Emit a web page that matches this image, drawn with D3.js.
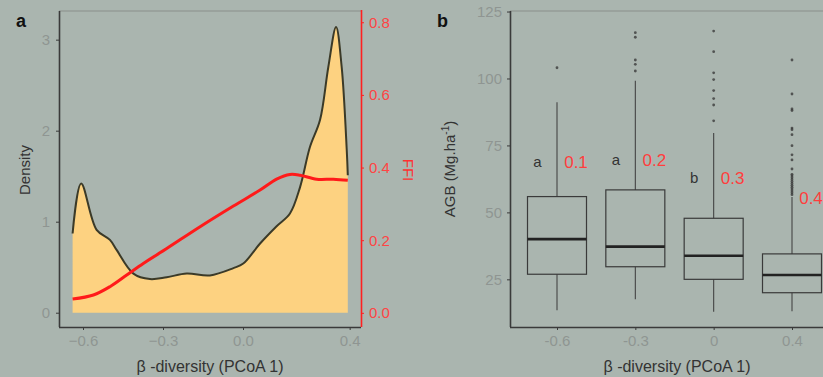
<!DOCTYPE html>
<html><head><meta charset="utf-8">
<script src="https://cdn.jsdelivr.net/npm/d3@7"></script>
<style>
html,body{margin:0;padding:0;background:#aab5af;}
svg{display:block;font-family:"Liberation Sans",Arial,sans-serif;}
</style></head><body>
<svg id="c" width="823" height="377"></svg>
<script>
// ---------- Panel a data ----------
const densityX = [-0.639,-0.607,-0.549,-0.499,-0.474,-0.411,-0.349,-0.286,-0.211,-0.124,-0.036,0.001,0.064,0.126,0.176,0.214,0.251,0.289,0.32,0.349,0.37,0.389,0.393];
const densityY = [0.87,1.42,0.91,0.80,0.69,0.43,0.37,0.39,0.43,0.41,0.49,0.54,0.76,0.95,1.09,1.38,1.82,2.12,2.70,3.14,2.70,1.79,1.51];
const ffiX = [-0.639,-0.561,-0.499,-0.436,-0.374,-0.286,-0.161,-0.036,0.064,0.126,0.176,0.214,0.276,0.339,0.393];
const ffiY = [0.038,0.049,0.072,0.104,0.136,0.177,0.237,0.294,0.338,0.368,0.381,0.379,0.368,0.368,0.365];
const densityTicks = [0,1,2,3];
const ffiTicks = [0,0.2,0.4,0.6,0.8];
const betaTicks = [-0.6,-0.3,0.0,0.4];

// ---------- Panel b data ----------
const groups = ["-0.6","-0.3","0","0.4"];
const whiskerLow = [13.5,17.6,12.9,13.1];
const q1 = [26.9,29.7,25.0,20.0];
const medians = [40.0,37.2,33.8,26.6];
const q3 = [55.9,58.4,47.8,34.5];
const whiskerHigh = [91.1,99.2,79.6,55.7];
const outliers = [
  [104],
  [102.8,105.3,106.9,115.4,117.1],
  [84.2,90.1,92.5,95.5,99.6,102.1,110,117.7],
  [56.6,57.3,58,58.7,59.4,60.1,60.8,61.5,62.2,62.9,63.6,64.2,66.2,69.6,71.5,74.9,79,80.9,81.5,88,88.6,94.2,106.9]
];
const sigLetters = ["a","a","b",""];
const ffiLabels = ["0.1","0.2","0.3","0.4"];
const labelAt = [68.9,69.6,62.9,55.4];
const agbTicks = [25,50,75,100,125];

const svg = d3.select("#c");
const axisDark = "#3a3a3a", tickGray = "#8f9592", titleCol = "#333";

// ================= Panel a =================
const ax = d3.scaleLinear().domain([-0.69,0.4425]).range([59,361]);
const ay = d3.scaleLinear().domain([-0.157,3.315]).range([327,11]);
const ay2 = d3.scaleLinear().domain([-0.039,0.831]).range([327,11]);
const ga = svg.append("g");

const dens = densityX.map((x,i)=>[x,densityY[i]]);
ga.append("path").datum(dens)
  .attr("d", d3.area().x(d=>ax(d[0])).y0(ay(0)).y1(d=>ay(d[1])).curve(d3.curveCatmullRom))
  .attr("fill","#fdd281");
ga.append("path").datum(dens)
  .attr("d", d3.line().x(d=>ax(d[0])).y(d=>ay(d[1])).curve(d3.curveCatmullRom))
  .attr("fill","none").attr("stroke","#3b3a28").attr("stroke-width",2);
const ffi = ffiX.map((x,i)=>[x,ffiY[i]]);
ga.append("path").datum(ffi)
  .attr("d", d3.line().x(d=>ax(d[0])).y(d=>ay2(d[1])).curve(d3.curveCatmullRom))
  .attr("fill","none").attr("stroke","#ff1a1a").attr("stroke-width",3);

// frame top
ga.append("line").attr("x1",59).attr("x2",361).attr("y1",11).attr("y2",11).attr("stroke","#8a8f8c").attr("stroke-width",1.2);

// left axis
const la = ga.append("g").attr("transform","translate(59,0)")
  .call(d3.axisLeft(ay).tickValues(densityTicks).tickSize(3).tickPadding(6).tickFormat(d3.format("d")));
la.select(".domain").attr("d","M0.5,11V327").attr("stroke",axisDark).attr("stroke-width",1.6);
la.selectAll(".tick line").attr("stroke",axisDark);
la.selectAll("text").attr("fill",tickGray).style("font-size","15px");

// bottom axis
const ba = ga.append("g").attr("transform","translate(0,327)")
  .call(d3.axisBottom(ax).tickValues(betaTicks).tickSize(3).tickPadding(5).tickFormat(d3.format(".1f")));
ba.select(".domain").attr("d","M59,0.5H361").attr("stroke",axisDark).attr("stroke-width",1.6);
ba.selectAll(".tick line").attr("stroke",axisDark);
ba.selectAll("text").attr("fill",tickGray).style("font-size","15px");

// right axis (red)
const ra = ga.append("g").attr("transform","translate(361,0)")
  .call(d3.axisRight(ay2).tickValues(ffiTicks).tickSize(3).tickPadding(5).tickFormat(d3.format(".1f")));
ra.select(".domain").attr("d","M0.5,10V327").attr("stroke","#ff2020").attr("stroke-width",1.6);
ra.selectAll(".tick line").attr("stroke","#ff2020");
ra.selectAll("text").attr("fill","#ff4444").style("font-size","15px");

ga.append("text").attr("x",16).attr("y",27).text("a").attr("font-weight","bold").attr("font-size",18).attr("fill","#111");
ga.append("text").attr("transform","translate(30,170) rotate(-90)").attr("text-anchor","middle")
  .attr("font-size",15).attr("fill",titleCol).text("Density");
ga.append("text").attr("transform","translate(403,170) rotate(90)").attr("text-anchor","middle")
  .attr("font-size",15).attr("fill","#ff3030").text("FFI");
ga.append("text").attr("x",210).attr("y",372).attr("text-anchor","middle")
  .attr("font-size",16).attr("fill",titleCol).text("β -diversity (PCoA 1)");

// ================= Panel b =================
const bx = d3.scalePoint().domain(groups).range([510,839]).padding(0.6);
const by = d3.scaleLinear().domain([7.2,125.2]).range([327,11]);
const gb = svg.append("g");
const bw = 59;

gb.append("line").attr("x1",510).attr("x2",823).attr("y1",11).attr("y2",11).attr("stroke","#8a8f8c").attr("stroke-width",1.2);

groups.forEach((g,i)=>{
  const cx = bx(g);
  const grp = gb.append("g");
  grp.append("line").attr("x1",cx).attr("x2",cx).attr("y1",by(q3[i])).attr("y2",by(whiskerHigh[i])).attr("stroke","#444").attr("stroke-width",1.1);
  grp.append("line").attr("x1",cx).attr("x2",cx).attr("y1",by(q1[i])).attr("y2",by(whiskerLow[i])).attr("stroke","#444").attr("stroke-width",1.1);
  grp.append("rect").attr("x",cx-bw/2).attr("width",bw).attr("y",by(q3[i])).attr("height",by(q1[i])-by(q3[i]))
    .attr("fill","none").attr("stroke","#3a3a3a").attr("stroke-width",1.2);
  grp.append("line").attr("x1",cx-bw/2).attr("x2",cx+bw/2).attr("y1",by(medians[i])).attr("y2",by(medians[i]))
    .attr("stroke","#222").attr("stroke-width",2.6);
  grp.selectAll("circle").data(outliers[i]).enter().append("circle")
    .attr("cx",cx).attr("cy",d=>by(d)).attr("r",1.4).attr("fill","#333").attr("opacity",0.75);
  if (sigLetters[i]) grp.append("text").attr("x",cx-19.5).attr("y",by(labelAt[i])+5).attr("text-anchor","middle")
    .attr("font-size",15).attr("fill","#333").text(sigLetters[i]);
  grp.append("text").attr("x",cx+19).attr("y",by(labelAt[i])+6).attr("text-anchor","middle")
    .attr("font-size",17).attr("fill","#ff3d3d").text(ffiLabels[i]);
});

const lb = gb.append("g").attr("transform","translate(510,0)")
  .call(d3.axisLeft(by).tickValues(agbTicks).tickSize(3).tickPadding(5));
lb.select(".domain").attr("d","M0.5,11V327").attr("stroke",axisDark).attr("stroke-width",1.6);
lb.selectAll(".tick line").attr("stroke",axisDark);
lb.selectAll("text").attr("fill",tickGray).style("font-size","15px");

const bb = gb.append("g").attr("transform","translate(0,327)")
  .call(d3.axisBottom(bx).tickSize(3).tickPadding(5));
bb.select(".domain").attr("d","M510,0.5H823").attr("stroke",axisDark).attr("stroke-width",1.6);
bb.selectAll(".tick line").attr("stroke",axisDark);
bb.selectAll("text").attr("fill",tickGray).style("font-size","15px");

gb.append("text").attr("x",437).attr("y",27).text("b").attr("font-weight","bold").attr("font-size",18).attr("fill","#111");
const yt = gb.append("text").attr("transform","translate(455,169) rotate(-90)").attr("text-anchor","middle")
  .attr("font-size",15).attr("fill",titleCol);
yt.append("tspan").text("AGB (Mg.ha");
yt.append("tspan").attr("dy",-6).attr("font-size",10).text("-1");
yt.append("tspan").attr("dy",6).text(")");
gb.append("text").attr("x",677).attr("y",372).attr("text-anchor","middle")
  .attr("font-size",16).attr("fill",titleCol).text("β -diversity (PCoA 1)");
</script>
</body></html>
